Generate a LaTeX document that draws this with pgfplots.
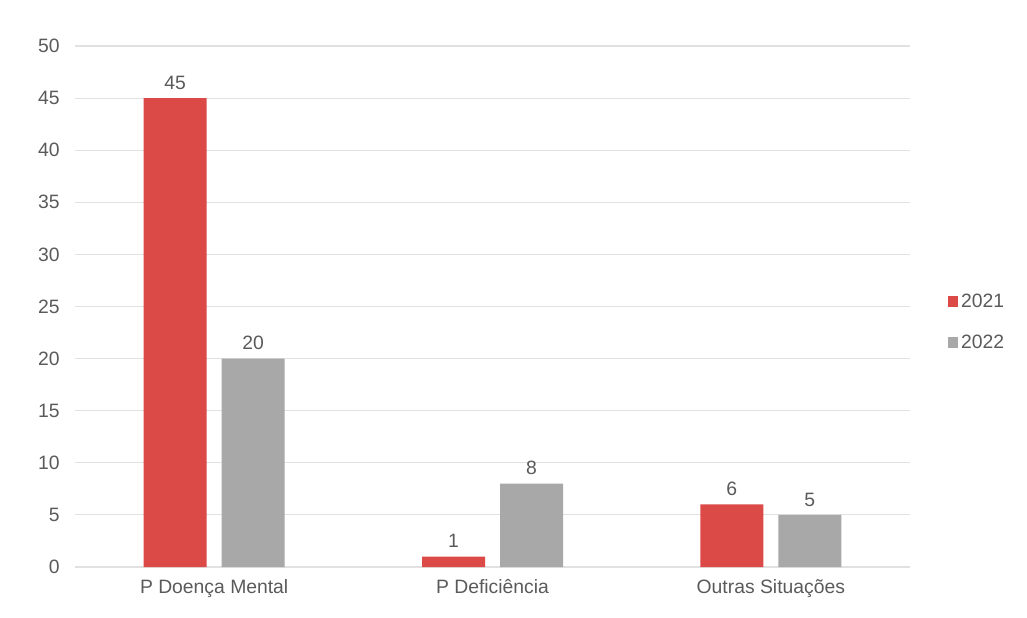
\documentclass[border=0pt]{standalone}
\usepackage{pgfplots}
\pgfplotsset{compat=1.18}
\usepackage{fontspec}
\setmainfont{Liberation Sans}
\definecolor{cred}{RGB}{219,74,70}
\definecolor{cgray}{RGB}{168,168,168}
\definecolor{ctext}{RGB}{90,90,90}
\definecolor{cgrid}{RGB}{225,225,225}
\begin{document}
\begin{tikzpicture}[x=1pt,y=1pt]
\useasboundingbox (-56.25,-37.5) rectangle (714,425.25);
\begin{axis}[
  at={(0,0)}, anchor=south west,
  scale only axis, width=626.25pt, height=390.75pt,
  ybar=11.25pt, bar width=47.25pt,
  xmin=-0.5, xmax=2.5, ymin=0, ymax=50,
  xtick=data, xticklabels={P Doença Mental, P Deficiência, Outras Situações},
  ytick={0,5,...,50},
  ymajorgrids, grid style={cgrid, line width=0.8pt},
  axis x line*=bottom, axis y line*=left,
  x axis line style={cgrid, line width=1pt, -},
  y axis line style={draw=none},
  major tick length=0pt,
  tick label style={font=\fontsize{14.5}{17}\selectfont, text=ctext},
  /pgf/number format/assume math mode=true,
  xticklabel style={yshift=-6pt},
  yticklabel style={xshift=-8pt},
  nodes near coords,
  nodes near coords style={font=\fontsize{14.5}{17}\selectfont, text=ctext, yshift=3pt},
  legend style={at={(1.04,0.47)}, anchor=west, draw=none, fill=none,
    font=\fontsize{14.5}{17}\selectfont, text=ctext, row sep=15pt},
  legend cell align=left,
  legend image code/.code={\fill[#1] (0pt,-4pt) rectangle (8pt,4pt);},
]
\addplot[fill=cred, draw=none] coordinates {(0,45) (1,1) (2,6)};
\addplot[fill=cgray, draw=none] coordinates {(0,20) (1,8) (2,5)};
\legend{2021,2022}
\end{axis}
\end{tikzpicture}
\end{document}
